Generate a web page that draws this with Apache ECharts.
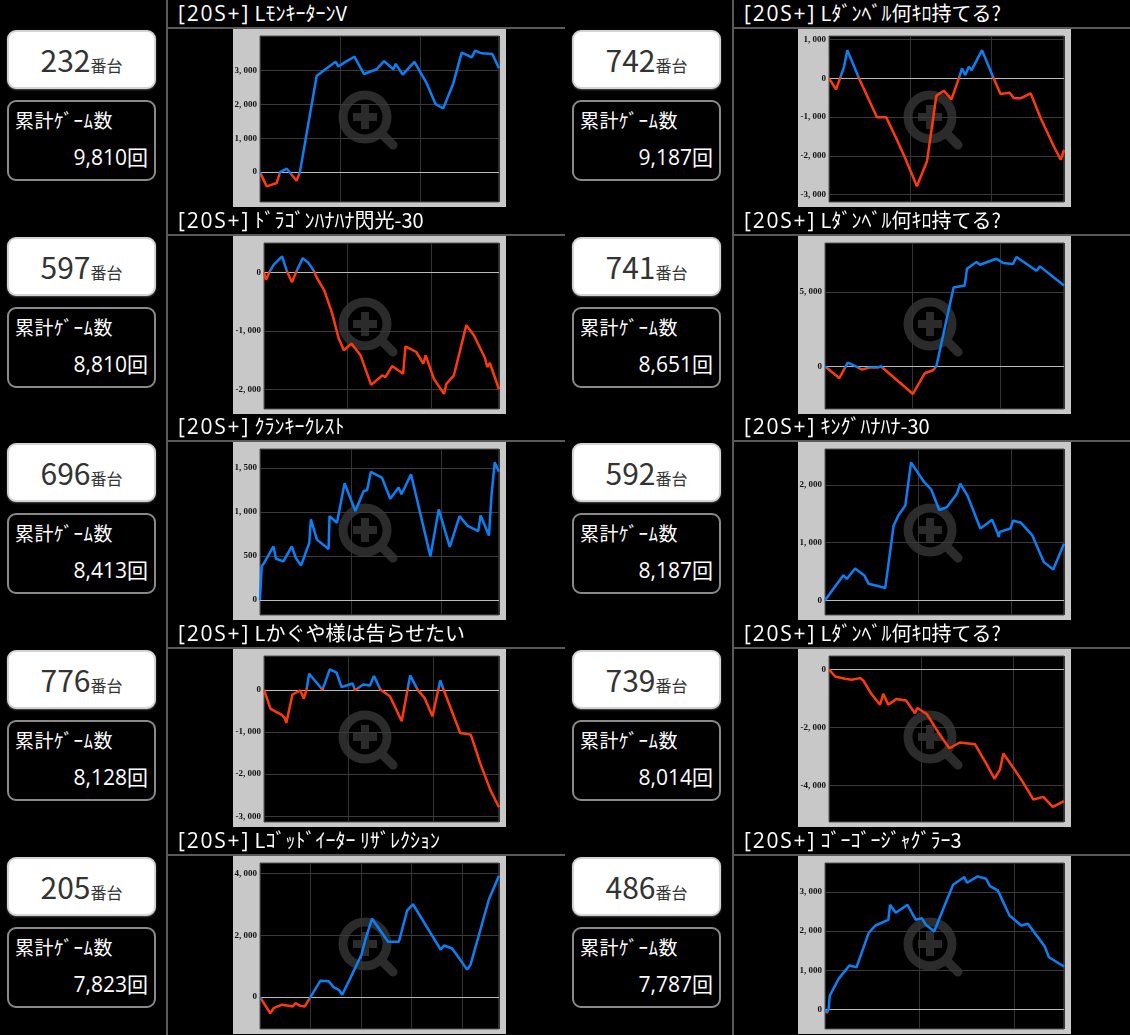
<!DOCTYPE html>
<html>
<head>
<meta charset="utf-8">
<script src="https://cdn.jsdelivr.net/npm/echarts@6/dist/echarts.min.js"></script>
<style>
body { margin: 0; background: #000; overflow: hidden; font-family: "Noto Sans CJK JP", sans-serif; }
#page { position: relative; width: 1130px; height: 1035px; background: #000; }
.vsep { position: absolute; top: 0; width: 2px; height: 1035px; background: #5a5a5a; }
.hsep { position: absolute; height: 2px; width: 399px; background: #5a5a5a; }
.title { position: absolute; color: #fff; font-size: 20px; line-height: 24px; white-space: nowrap; }
.title .p { font-family: "Open Sans", "Noto Sans CJK JP", sans-serif; font-size: 21px; letter-spacing: 1.8px; }
.nobox { position: absolute; width: 149px; height: 59px; box-sizing: border-box; background: #fff;
  border: 2px solid #d4d4d4; border-radius: 9px; box-shadow: 0 1px 2px rgba(255,255,255,0.3);
  text-align: center; color: #333; line-height: 55px; }
.nobox .n { font-size: 30px; }
.nobox .u { font-size: 16px; }
.gbox { position: absolute; width: 149px; height: 81px; box-sizing: border-box; background: #000;
  border: 2px solid #8a8a8a; border-radius: 9px; color: #fff; }
.gbox .l { position: absolute; left: 6px; top: 6px; font-size: 19px; line-height: 24px; letter-spacing: 0.5px; }
.gbox .c { position: absolute; right: 6px; top: 42px; font-size: 21px; line-height: 26px;
  font-family: "Open Sans", "Noto Sans CJK JP", sans-serif; }
.chart { position: absolute; width: 273px; height: 178px; background: #c8c8c8; }
</style>
</head>
<body>
<div id="page"></div>
<script>
// 台番号・機種・累計ゲーム数
var machines = [232, 742, 597, 741, 696, 592, 776, 739, 205, 486];
var titles = [
    '[20S+] LﾓﾝｷｰﾀｰﾝV',
    '[20S+] Lﾀﾞﾝﾍﾞﾙ何ｷﾛ持てる?',
    '[20S+] ﾄﾞﾗｺﾞﾝﾊﾅﾊﾅ閃光-30',
    '[20S+] Lﾀﾞﾝﾍﾞﾙ何ｷﾛ持てる?',
    '[20S+] ｸﾗﾝｷｰｸﾚｽﾄ',
    '[20S+] ｷﾝｸﾞﾊﾅﾊﾅ-30',
    '[20S+] Lかぐや様は告らせたい',
    '[20S+] Lﾀﾞﾝﾍﾞﾙ何ｷﾛ持てる?',
    '[20S+] Lｺﾞｯﾄﾞｲｰﾀｰ ﾘｻﾞﾚｸｼｮﾝ',
    '[20S+] ｺﾞｰｺﾞｰｼﾞｬｸﾞﾗｰ3'
];
var totalGames = [9810, 9187, 8810, 8651, 8413, 8187, 8128, 8014, 7823, 7787];

// 差枚推移 [進行(%), 差枚]
var diff232 = [[0,0],[2.8,-420],[7,-320],[8.4,0],[11.2,100],[15.3,-255],[16.7,0],[23.7,2830],[27.9,3060],[31.7,3250],[32.8,3110],[35.6,3240],[39.5,3400],[43.5,2890],[48.8,3030],[51.9,3270],[55.8,3030],[56.8,3190],[59.7,2870],[64.6,3250],[69.7,2620],[73.5,2000],[76.7,1880],[80.9,2620],[84.4,3520],[88.6,3380],[90,3580],[92.7,3500],[97.2,3480],[100,3060]];
var diff742 = [[0,0],[3,-283],[4.7,0],[6.4,300],[7.8,730],[12.8,0],[20.4,-1000],[24.3,-1000],[28.9,-1585],[32.4,-2056],[37.4,-2785],[41.7,-2140],[45.7,-445],[48.8,-317],[52.1,-540],[55,-43],[56.6,257],[58,86],[59.5,300],[60.7,214],[65.1,730],[70.1,0],[73,-403],[75.1,-385],[76.9,-368],[78.7,-514],[81.5,-514],[85.8,-385],[90.1,-1030],[95.7,-1757],[98.6,-2100],[100,-1842]];
var diff597 = [[0,0],[0.9,-126],[2.4,17],[4.1,132],[7.7,276],[9.8,17],[11.9,-167],[13.6,0],[16.5,247],[19,161],[21.2,29],[22.6,-98],[25.7,-310],[29,-701],[31.8,-1132],[34,-1333],[37.2,-1218],[41.1,-1420],[45.6,-1925],[50.3,-1764],[51.7,-1793],[54.5,-1603],[59.2,-1736],[60.2,-1264],[64.8,-1362],[67.8,-1563],[68.8,-1420],[72.3,-1822],[76.6,-2080],[77.6,-1908],[80.8,-1764],[86.1,-902],[89.3,-1075],[94,-1460],[95,-1620],[96.1,-1551],[100,-2000]];
var diff741 = [[0,0],[6,-811],[9.5,248],[12.3,45],[15.5,-225],[18.6,-90],[22.1,-90],[23.4,0],[36.8,-1870],[41.7,-473],[45.2,-270],[46.6,0],[53.8,5315],[58.5,5450],[59.4,6577],[63.4,7027],[64.8,6847],[71.7,7252],[74.5,6959],[78.7,6892],[80.1,7365],[88.5,6441],[89.9,6734],[100,5450]];
var diff696 = [[0,0],[0.7,381],[1.7,419],[5.6,609],[6.7,468],[9.8,438],[13.3,609],[15,476],[17.2,392],[20.6,647],[21.3,914],[23.8,685],[28.7,579],[29.1,952],[32.2,876],[35.4,1325],[39.9,1009],[43.4,1238],[44.8,1245],[46.4,1455],[51,1390],[54.5,1150],[58,1276],[59.2,1200],[63.2,1428],[71.3,495],[74.8,1028],[79.4,602],[83.5,952],[86.7,845],[91.3,781],[92.3,960],[95.8,731],[96.9,1200],[98.2,1562],[100,1455]];
var diff592 = [[0,0],[7.7,433],[9.1,368],[12.6,550],[16.5,427],[18.2,287],[21.7,251],[25.2,211],[28.7,1292],[30.8,1480],[33.6,1643],[36,2392],[41.3,2064],[44.5,1918],[47.8,1567],[51,1614],[55.2,1848],[56.6,2023],[59.7,1807],[65,1246],[69.9,1398],[72,1187],[72.7,1099],[73.1,1187],[77.6,1246],[78.7,1380],[81.8,1351],[86.7,1129],[91.6,661],[95.5,532],[100,982]];
var diff776 = [[0,0],[2.8,-452],[7.4,-587],[8.8,-667],[9.5,-786],[12.1,-111],[15.5,-16],[16.9,-206],[18.1,0],[19.2,381],[24.9,0],[28,484],[30.9,405],[33,63],[37.7,151],[38.7,-8],[42.2,127],[45.1,103],[46.8,325],[49.6,0],[50.1,-32],[53.6,-151],[58.6,-746],[62.2,341],[65.4,0],[68.3,-190],[71.7,-627],[75,222],[76.4,8],[83.5,-1024],[88,-1063],[92,-1738],[96.3,-2373],[100,-2786]];
var diff739 = [[0,0],[2.6,-243],[6.8,-324],[9.6,-358],[13.2,-301],[14.6,-382],[18.2,-867],[21.7,-1214],[23.1,-844],[25.2,-1214],[28.8,-1017],[32.8,-1075],[36.6,-1514],[37.6,-1329],[41.6,-1538],[46.5,-2173],[51.2,-2717],[55.7,-2520],[62.1,-2578],[67.1,-3272],[70.4,-3769],[72.8,-3445],[74.2,-2902],[78.4,-3387],[82.7,-3908],[87,-4486],[91.2,-4393],[95.2,-4740],[100,-4543]];
var diff205 = [[0,0],[4.3,-522],[5.7,-359],[9,-250],[11.3,-272],[13.7,-304],[14.8,-196],[16.9,-283],[18.7,-304],[21.1,0],[25.3,533],[28.8,511],[30.9,315],[33,239],[34.4,76],[38.3,696],[42.5,1380],[44.1,1870],[46.9,2543],[53.6,1793],[58.1,1793],[61.6,2815],[64,3011],[75.6,1543],[77,1674],[80.4,1576],[86.7,891],[88.1,1054],[95.8,3174],[100,3935]];
var diff486 = [[0,0],[0.8,-94],[1.5,0],[2,350],[5.7,778],[10.2,1120],[13.2,1077],[18.3,1957],[21.1,2145],[26.5,2290],[27.2,2675],[29.6,2470],[34.5,2675],[38,2290],[40.5,2333],[42.2,2162],[45.7,1991],[49.2,2530],[53.6,3188],[58.3,3385],[59.4,3239],[63.9,3402],[67.4,3342],[69,3154],[72.3,3043],[77.2,2402],[82.1,2145],[84.9,2188],[91.9,1615],[93.7,1333],[100,1094]];
var diffs = [diff232, diff742, diff597, diff741, diff696, diff592, diff776, diff739, diff205, diff486];

// Y軸の表示範囲と目盛
var yRanges = [[-880, 4010], [-3190, 1095], [-2339, 506], [-2883, 8311], [-171, 1714], [-257, 2626], [-3135, 802], [-5260, 462], [-1033, 4348], [-504, 3744]];
var yTicks = [
    [0, 1000, 2000, 3000],
    [1000, 0, -1000, -2000, -3000],
    [0, -1000, -2000],
    [0, 5000],
    [0, 500, 1000, 1500],
    [0, 1000, 2000],
    [0, -1000, -2000, -3000],
    [0, -2000, -4000],
    [0, 2000, 4000],
    [0, 1000, 2000, 3000]
];
// 縦の補助線の間隔(%)
var xSteps = [33.5, 34.6, 35.6, 36.6, 38.0, 38.9, 36.0, 39.1, 21.15, 39.5];

var BLUE = '#0a80f5';
var RED = '#ff3a0a';
var ICON = '#2b2b2b';

var page = document.getElementById('page');

function addDiv(cls, css, html) {
    var d = document.createElement('div');
    d.className = cls;
    Object.assign(d.style, css);
    if (html) d.innerHTML = html;
    page.appendChild(d);
    return d;
}

addDiv('vsep', {left: '166px'});
addDiv('vsep', {left: '732px'});

function fmt(v) {
    return v.toLocaleString('en-US').replace(',', ', ');
}

// プラスは青、マイナスは赤 (線の外接矩形に対するグラデーション)
function lineColor(data) {
    var ys = data.map(function (d) { return d[1]; });
    var hi = Math.max.apply(null, ys), lo = Math.min.apply(null, ys);
    if (lo >= 0) return BLUE;
    if (hi <= 0) return RED;
    var f = hi / (hi - lo);
    return new echarts.graphic.LinearGradient(0, 0, 0, 1, [
        {offset: 0, color: BLUE}, {offset: f, color: BLUE},
        {offset: f, color: RED}, {offset: 1, color: RED}
    ]);
}

function makeChart(i) {
    var row = Math.floor(i / 2);
    var col = i % 2;
    var hl = Math.round(28 + row * 206.7);
    var x0 = col * 565;
    var parts = titles[i].split('] ');

    addDiv('hsep', {left: (col ? 732 : 166) + 'px', top: (hl - 1) + 'px'});
    addDiv('title', {left: (col ? 744 : 178) + 'px', top: (hl - 27) + 'px'},
        '<span class="p">' + parts[0] + ']</span> ' + parts[1]);
    addDiv('nobox', {left: (x0 + 7) + 'px', top: (hl + 2) + 'px'},
        '<span class="n">' + machines[i] + '</span><span class="u">番台</span>');
    addDiv('gbox', {left: (x0 + 7) + 'px', top: (hl + 72) + 'px'},
        '<div class="l">累計ｹﾞｰﾑ数</div><div class="c">' + totalGames[i].toLocaleString('en-US') + '回</div>');
    var box = addDiv('chart', {left: (x0 + 233) + 'px', top: (hl + 1) + 'px'});

    var hasNeg = yTicks[i].some(function (t) { return t < 0; });
    var chart = echarts.init(box);
    var option = {
        animation: false,
        grid: {
            left: hasNeg ? 31 : 27, right: 7, top: 7, bottom: 5,
            show: true, backgroundColor: '#000', borderColor: '#555', borderWidth: 1
        },
        xAxis: {
            type: 'value', min: 0, max: 100, interval: xSteps[i],
            axisLine: {show: false}, axisTick: {show: false}, axisLabel: {show: false},
            splitLine: {show: true, lineStyle: {color: '#333', width: 1}}
        },
        yAxis: {
            type: 'value', min: yRanges[i][0], max: yRanges[i][1],
            axisLine: {show: false}, axisTick: {show: false}, axisLabel: {show: false},
            splitLine: {show: false}
        },
        graphic: [{
            type: 'group', x: 132, y: 88, z: 1, silent: true,
            children: [
                {type: 'circle', shape: {cx: 0, cy: 0, r: 22}, style: {fill: 'none', stroke: ICON, lineWidth: 9}},
                {type: 'rect', shape: {x: -12, y: -4, width: 24, height: 8}, style: {fill: ICON}},
                {type: 'rect', shape: {x: -4, y: -12, width: 8, height: 24}, style: {fill: ICON}},
                {type: 'line', shape: {x1: 18, y1: 18, x2: 28, y2: 28}, style: {stroke: ICON, lineWidth: 9, lineCap: 'round'}}
            ]
        }],
        series: [{
            type: 'line',
            data: diffs[i],
            symbol: 'none',
            z: 3,
            lineStyle: {width: 2.5, color: lineColor(diffs[i])},
            markLine: {
                silent: true, symbol: 'none', animation: false, z: 2,
                label: {
                    position: 'start', distance: 3, color: '#111',
                    fontSize: 9, fontWeight: 'bold', fontFamily: 'Liberation Serif',
                    formatter: function (p) { return fmt(p.value); }
                },
                data: yTicks[i].map(function (t) {
                    return {yAxis: t, lineStyle: {color: t === 0 ? '#bbb' : '#3a3a3a', width: 1, type: 'solid'}};
                })
            }
        }]
    };
    chart.setOption(option);
    return chart;
}

var charts = [];
for (var i = 0; i < machines.length; i++) {
    charts.push(makeChart(i));
}
</script>
</body>
</html>
